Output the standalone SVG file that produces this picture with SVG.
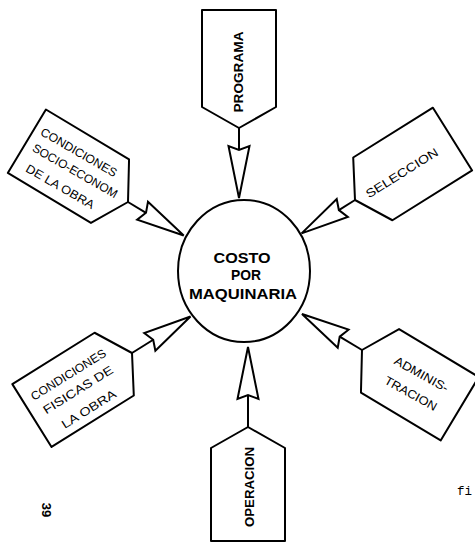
<svg xmlns="http://www.w3.org/2000/svg" width="475" height="543" viewBox="0 0 475 543">
<style>
.box{fill:#fff;stroke:#000;stroke-width:2;stroke-linejoin:round}
.ln{stroke:#000;stroke-width:2;fill:none}
.ah{fill:#fff;stroke:#000;stroke-width:2;stroke-linejoin:miter}
.lbl{font-family:"Liberation Sans",Arial,sans-serif;font-size:12px;fill:#000;text-anchor:middle}
.lblb{font-family:"Liberation Sans",Arial,sans-serif;font-size:13px;font-weight:bold;fill:#000;text-anchor:middle}
.ctr{font-family:"Liberation Sans",Arial,sans-serif;font-size:15px;font-weight:bold;fill:#000;text-anchor:middle}
</style>
<rect width="475" height="543" fill="#fff"/>

<g id="connectors">
  <g transform="translate(239,128)"><line class="ln" x1="0" y1="0" x2="0" y2="22"/><polygon class="ah" points="0,70 -10.5,18 0,22 10.5,18"/></g>
  <g transform="translate(128,202) rotate(-59)"><line class="ln" x1="0" y1="0" x2="0" y2="21"/><polygon class="ah" points="0,65 -10.5,17 0,21 10.5,17"/></g>
  <g transform="translate(355,200) rotate(58)"><line class="ln" x1="0" y1="0" x2="0" y2="19"/><polygon class="ah" points="0,63 -10.5,15 0,19 10.5,15"/></g>
  <g transform="translate(132,353) rotate(-122)"><line class="ln" x1="0" y1="0" x2="0" y2="25"/><polygon class="ah" points="0,69 -10.5,21 0,25 10.5,21"/></g>
  <g transform="translate(362,350) rotate(121)"><line class="ln" x1="0" y1="0" x2="0" y2="26"/><polygon class="ah" points="0,70 -10.5,22 0,26 10.5,22"/></g>
  <g transform="translate(248,427) rotate(180)"><line class="ln" x1="0" y1="0" x2="0" y2="32"/><polygon class="ah" points="0,80 -10.5,28 0,32 10.5,28"/></g>
</g>

<g id="center">
  <ellipse cx="244" cy="271" rx="66" ry="71" fill="#fff" stroke="#000" stroke-width="2"/>
  <text class="ctr" x="242" y="263" textLength="57" lengthAdjust="spacingAndGlyphs">COSTO</text>
  <text class="ctr" x="246" y="280" textLength="30" lengthAdjust="spacingAndGlyphs">POR</text>
  <text class="ctr" x="243" y="299" textLength="108" lengthAdjust="spacingAndGlyphs">MAQUINARIA</text>
</g>

<g id="programa">
  <path class="box" transform="translate(239,128)" d="M0,0 L-37,-21 L-37,-118 L37,-118 L37,-21 Z"/>
  <text class="lblb" transform="translate(243,72) rotate(-90)" font-size="14" textLength="81" lengthAdjust="spacingAndGlyphs">PROGRAMA</text>
</g>

<g id="socio">
  <path class="box" transform="translate(128,202) rotate(-59)" d="M0,0 L-37,-21 L-37,-118 L37,-118 L37,-21 Z"/>
  <g transform="translate(75,171) rotate(30)">
    <text class="lbl" x="-6" y="-14" textLength="86" lengthAdjust="spacingAndGlyphs">CONDICIONES</text>
    <text class="lbl" x="0" y="4" textLength="96" lengthAdjust="spacingAndGlyphs">SOCIO-ECONOM</text>
    <text class="lbl" x="-5" y="25" textLength="77" lengthAdjust="spacingAndGlyphs">DE LA OBRA</text>
  </g>
</g>

<g id="seleccion">
  <path class="box" transform="translate(355,200) rotate(58)" d="M0,0 L-37,-21 L-37,-115 L37,-115 L37,-21 Z"/>
  <text class="lbl" transform="translate(402,173) rotate(-32)" y="4" textLength="83" lengthAdjust="spacingAndGlyphs">SELECCION</text>
</g>

<g id="fisicas">
  <path class="box" transform="translate(132,353) rotate(-122)" d="M0,0 L-37,-21 L-37,-118 L37,-118 L37,-21 Z"/>
  <g transform="translate(78,390) rotate(-32)">
    <text class="lbl" x="0" y="-14" textLength="86" lengthAdjust="spacingAndGlyphs">CONDICIONES</text>
    <text class="lbl" x="0" y="4" textLength="80" lengthAdjust="spacingAndGlyphs">FISICAS DE</text>
    <text class="lbl" x="-1" y="26" textLength="62" lengthAdjust="spacingAndGlyphs">LA OBRA</text>
  </g>
</g>

<g id="administracion">
  <path class="box" transform="translate(362,350) rotate(121)" d="M0,0 L-37,-21 L-37,-114 L37,-114 L37,-21 Z"/>
  <g transform="translate(416,384) rotate(29)">
    <text class="lbl" x="0" y="-7" textLength="60" lengthAdjust="spacingAndGlyphs">ADMINIS-</text>
    <text class="lbl" x="0" y="15" textLength="58" lengthAdjust="spacingAndGlyphs">TRACION</text>
  </g>
</g>

<g id="operacion">
  <path class="box" transform="translate(248,427) rotate(180)" d="M0,0 L-37,-21 L-37,-114 L37,-114 L37,-21 Z"/>
  <text class="lblb" transform="translate(254,487) rotate(-90)" textLength="80" lengthAdjust="spacingAndGlyphs">OPERACION</text>
</g>

<text transform="translate(42,510) rotate(90)" font-family="Liberation Sans, Arial, sans-serif" font-size="13" font-weight="bold" text-anchor="middle">39</text>
<text x="457" y="495" font-family="Liberation Mono, monospace" font-size="13" textLength="15" lengthAdjust="spacingAndGlyphs">fi</text>
</svg>
